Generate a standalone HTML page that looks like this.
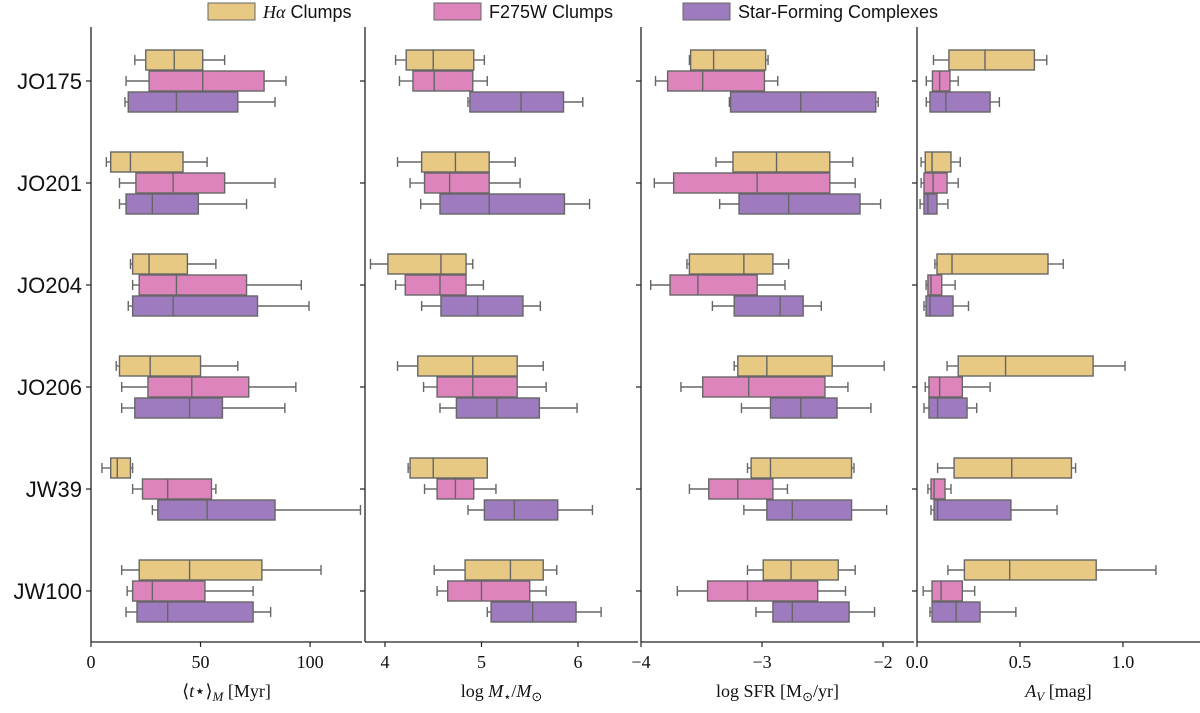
<!DOCTYPE html>
<html><head><meta charset="utf-8"><style>
body{margin:0;background:#fff}
svg{display:block}
text{font-family:"Liberation Serif",serif;fill:#111}
.sans{font-family:"Liberation Sans",sans-serif}
</style></head><body>
<svg id="c" width="1200" height="713" xmlns="http://www.w3.org/2000/svg"></svg>
<script>
const galaxies=["JO175","JO201","JO204","JO206","JW39","JW100"];
const seriesNames=["Hα Clumps","F275W Clumps","Star-Forming Complexes"];
// each box: [whiskerLow, q1, median, q3, whiskerHigh]
const ageHa=[[20,25,38,51,61],[7,9,18,42,53],[18,19,26.5,44,57],[11.5,13,27,50,67],[5,9,12,18,19],[14,22,45,78,105]];
const ageF275=[[16,26.5,51,79,89],[13,20.5,37.5,61,84],[19,22,39,71,96],[14,26,46,72,93.5],[19,23.5,35,55,57],[16.5,19,28,52,74]];
const ageSFC=[[15.5,17,39,67,84],[13,16,28,49,71],[17,19,37.5,76,99.5],[14,20,45,60,88.5],[28,30.5,53,84,123],[16,21,35,74,82]];
const massHa=[[4.11,4.22,4.5,4.92,5.03],[4.13,4.38,4.73,5.08,5.35],[3.85,4.03,4.58,4.84,4.91],[4.13,4.34,4.91,5.37,5.64],[4.24,4.26,4.5,5.06,5.06],[4.51,4.83,5.3,5.64,5.78]];
const massF275=[[4.15,4.29,4.51,4.91,5.06],[4.26,4.41,4.67,5.08,5.4],[4.11,4.21,4.57,4.84,5.02],[4.4,4.54,4.91,5.37,5.67],[4.41,4.54,4.73,4.92,5.15],[4.54,4.65,5.0,5.5,5.67]];
const massSFC=[[4.86,4.88,5.41,5.85,6.05],[4.37,4.57,5.08,5.86,6.12],[4.38,4.58,4.96,5.43,5.61],[4.57,4.74,5.16,5.6,5.99],[4.86,5.03,5.34,5.79,6.15],[5.06,5.1,5.53,5.98,6.24]];
const sfrHa=[[-3.6,-3.59,-3.4,-2.97,-2.95],[-3.38,-3.24,-2.88,-2.44,-2.25],[-3.62,-3.6,-3.15,-2.91,-2.78],[-3.23,-3.2,-2.96,-2.42,-1.99],[-3.12,-3.09,-2.93,-2.26,-2.24],[-3.12,-2.99,-2.76,-2.37,-2.23]];
const sfrF275=[[-3.88,-3.78,-3.49,-2.98,-2.87],[-3.89,-3.73,-3.04,-2.44,-2.23],[-3.92,-3.76,-3.53,-3.04,-2.81],[-3.67,-3.49,-3.11,-2.48,-2.29],[-3.6,-3.44,-3.2,-2.91,-2.79],[-3.7,-3.45,-3.12,-2.54,-2.31]];
const sfrSFC=[[-3.27,-3.26,-2.68,-2.06,-2.04],[-3.35,-3.19,-2.78,-2.19,-2.02],[-3.41,-3.23,-2.85,-2.66,-2.51],[-3.17,-2.93,-2.68,-2.38,-2.1],[-3.15,-2.96,-2.75,-2.26,-1.97],[-3.05,-2.91,-2.75,-2.28,-2.07]];
const avHa=[[0.08,0.155,0.33,0.57,0.63],[0.02,0.04,0.073,0.165,0.21],[0.087,0.097,0.17,0.636,0.71],[0.146,0.2,0.43,0.855,1.01],[0.1,0.18,0.46,0.75,0.77],[0.15,0.23,0.45,0.87,1.16]];
const avF275=[[0.045,0.075,0.11,0.16,0.2],[0.02,0.034,0.078,0.146,0.2],[0.044,0.053,0.068,0.12,0.185],[0.04,0.058,0.11,0.22,0.355],[0.053,0.068,0.083,0.136,0.165],[0.03,0.073,0.117,0.22,0.28]];
const avSFC=[[0.045,0.063,0.14,0.355,0.4],[0.015,0.034,0.053,0.097,0.15],[0.034,0.044,0.063,0.175,0.25],[0.034,0.058,0.1,0.243,0.29],[0.068,0.083,0.1,0.456,0.68],[0.063,0.073,0.19,0.306,0.48]];
const ticksAge=[0,50,100], tickLabAge=["0","50","100"];
const ticksMass=[4,5,6], tickLabMass=["4","5","6"];
const ticksSfr=[-4,-3,-2], tickLabSfr=["−4","−3","−2"];
const ticksAv=[0,0.5,1.0], tickLabAv=["0.0","0.5","1.0"];

const NS="http://www.w3.org/2000/svg";
const svg=document.getElementById('c');
function mk(tag,attrs,parent){const e=document.createElementNS(NS,tag);for(const k in attrs)e.setAttribute(k,attrs[k]);(parent||svg).appendChild(e);return e;}
const colors=["#e8c983","#de84bd","#9e7bbf"];
const edge="#666";
const titles=[
 '⟨<tspan font-style="italic">t</tspan>⋆⟩<tspan font-style="italic" font-size="13" dy="4">M</tspan><tspan dy="-4"> [Myr]</tspan>',
 'log <tspan font-style="italic">M</tspan><tspan font-size="13" dy="4">⋆</tspan><tspan dy="-4">/</tspan><tspan font-style="italic">M</tspan><tspan font-size="13" dy="4">⊙</tspan>',
 'log SFR [M<tspan font-size="13" dy="4">⊙</tspan><tspan dy="-4">/yr]</tspan>',
 '<tspan font-style="italic">A</tspan><tspan font-style="italic" font-size="13" dy="4">V</tspan><tspan dy="-4"> [mag]</tspan>'
];
const panels=[
 {x0:91,x1:362,d0:0,d1:123.7,data:[ageHa,ageF275,ageSFC],ticks:ticksAge,labs:tickLabAge,name:"age-panel"},
 {x0:365,x1:638,d0:3.793,d1:6.622,data:[massHa,massF275,massSFC],ticks:ticksMass,labs:tickLabMass,name:"mass-panel"},
 {x0:641,x1:914,d0:-4,d1:-1.744,data:[sfrHa,sfrF275,sfrSFC],ticks:ticksSfr,labs:tickLabSfr,name:"sfr-panel"},
 {x0:917,x1:1200,d0:0,d1:1.374,data:[avHa,avF275,avSFC],ticks:ticksAv,labs:tickLabAv,name:"av-panel"}
];
const yTop=27,yBot=642,row0=81,rowStep=102,offs=[-21,0,21],bh=20;
function rowY(i){return row0+i*rowStep;}
panels.forEach((p,pi)=>{
  const g=mk('g',{});
  
  
  const sx=v=>p.x0+(v-p.d0)/(p.d1-p.d0)*(p.x1-p.x0);
  const ax=mk('line',{x1:p.x0,y1:yTop,x2:p.x0,y2:yBot,stroke:'#222','stroke-width':1.3},g);
  
  
  const bx=mk('line',{x1:p.x0,y1:yBot,x2:p.x1,y2:yBot,stroke:'#222','stroke-width':1.3},g);
  
  
  galaxies.forEach((gname,i)=>{
    mk('line',{x1:p.x0-5,y1:rowY(i),x2:p.x0,y2:rowY(i),stroke:'#222','stroke-width':1.2},g);
    if(pi===0){const t=mk('text',{x:82,y:rowY(i)+8,'text-anchor':'end','font-size':22,class:'sans'},g);t.textContent=gname;
      
      }
  });
  p.ticks.forEach((tv,k)=>{
    const x=sx(tv);
    mk('line',{x1:x,y1:yBot,x2:x,y2:yBot+5,stroke:'#222','stroke-width':1.2},g);
    const t=mk('text',{x:x,y:668,'text-anchor':'middle','font-size':18},g);t.textContent=p.labs[k];
    
    
  });
  const tt=mk('text',{x:(p.x0+p.x1)/2,y:697,'text-anchor':'middle','font-size':18},g);
  tt.innerHTML=titles[pi];
  
  
  p.data.forEach((series,si)=>{
    series.forEach((b,i)=>{
      const cy=rowY(i)+offs[si];
      const bg=mk('g',{},g);
      
      
      const ls={stroke:edge,'stroke-width':1.4,fill:'none'};
      mk('line',Object.assign({x1:sx(b[0]),y1:cy,x2:sx(b[1]),y2:cy},ls),bg);
      mk('line',Object.assign({x1:sx(b[3]),y1:cy,x2:sx(b[4]),y2:cy},ls),bg);
      mk('line',Object.assign({x1:sx(b[0]),y1:cy-5,x2:sx(b[0]),y2:cy+5},ls),bg);
      mk('line',Object.assign({x1:sx(b[4]),y1:cy-5,x2:sx(b[4]),y2:cy+5},ls),bg);
      mk('rect',{x:sx(b[1]),y:cy-bh/2,width:Math.max(1,sx(b[3])-sx(b[1])),height:bh,fill:colors[si],stroke:edge,'stroke-width':1.4},bg);
      mk('line',Object.assign({x1:sx(b[2]),y1:cy-bh/2,x2:sx(b[2]),y2:cy+bh/2},ls),bg);
    });
  });
});
const lg=mk('g',{});


const lx=[208,434,683];
seriesNames.forEach((n,si)=>{
  const e=mk('g',{},lg);
  
  
  mk('rect',{x:lx[si],y:3,width:47,height:17,fill:colors[si],stroke:edge,'stroke-width':1},e);
  const t=mk('text',{x:lx[si]+55,y:18,'font-size':18,class:'sans'},e);
  if(si===0){t.innerHTML='<tspan font-family="Liberation Serif" font-style="italic">Hα</tspan> Clumps';}
  else t.textContent=n;
});
</script>
</body></html>
